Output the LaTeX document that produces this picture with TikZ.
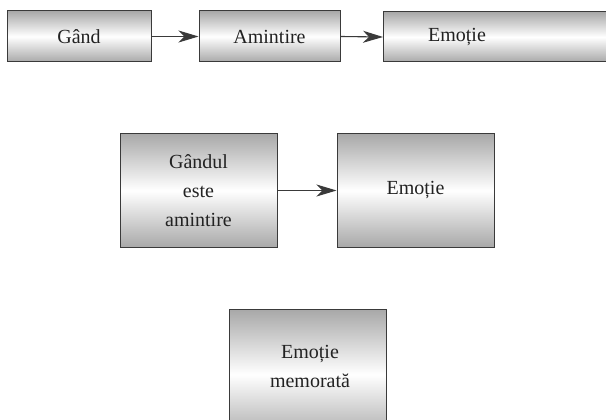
\documentclass[tikz,border=0pt]{standalone}
\usepackage{fontspec}
\setmainfont{Liberation Serif}
\usetikzlibrary{arrows.meta}
\definecolor{ink}{HTML}{222222}
\definecolor{frame}{HTML}{3A3A3A}
\tikzset{
  box/.style={draw=frame, line width=1pt, rectangle, inner sep=0pt,
    top color=black!34, bottom color=black!34, middle color=white,
    text=ink, font=\fontsize{20}{29}\selectfont, align=center},
  label/.style={text=ink, font=\fontsize{20}{29}\selectfont, align=center, inner sep=0pt},
  flow/.style={draw=frame, line width=1.1pt,
    -{Stealth[length=20pt, width=12pt, inset=6pt]}}
}
\begin{document}
\begin{tikzpicture}[x=1pt, y=-1pt]
\useasboundingbox (0,0) rectangle (606,420);
\clip (0,0) rectangle (606,420);
% top row
\node[box, minimum width=144pt, minimum height=51pt] (g) at (79,36.5) {Gând};
\node[box, minimum width=141pt, minimum height=51pt] (a) at (269.5,36.5) {Amintire};
\node[box, minimum width=240pt, minimum height=50pt, anchor=west] (e) at (383,37) {};
\node[label] (et) at (457,37) {Emoție};
\draw[flow] (g.east) -- (a.west);
\draw[flow] (a.east) -- (e.west);
% middle row
\node[box, minimum width=157pt, minimum height=114pt] (ga) at (198.5,190.5) {Gândul\\este\\amintire};
\node[box, minimum width=157pt, minimum height=113pt] (em) at (415.5,190.5) {Emoție};
\draw[flow] (ga.east) -- (em.west);
% bottom box
\node[box, minimum width=157pt, minimum height=130pt, anchor=north] (m) at (307.5,309) {};
\node[label] (mt) at (310,366) {Emoție\\memorată};
\end{tikzpicture}
\end{document}
